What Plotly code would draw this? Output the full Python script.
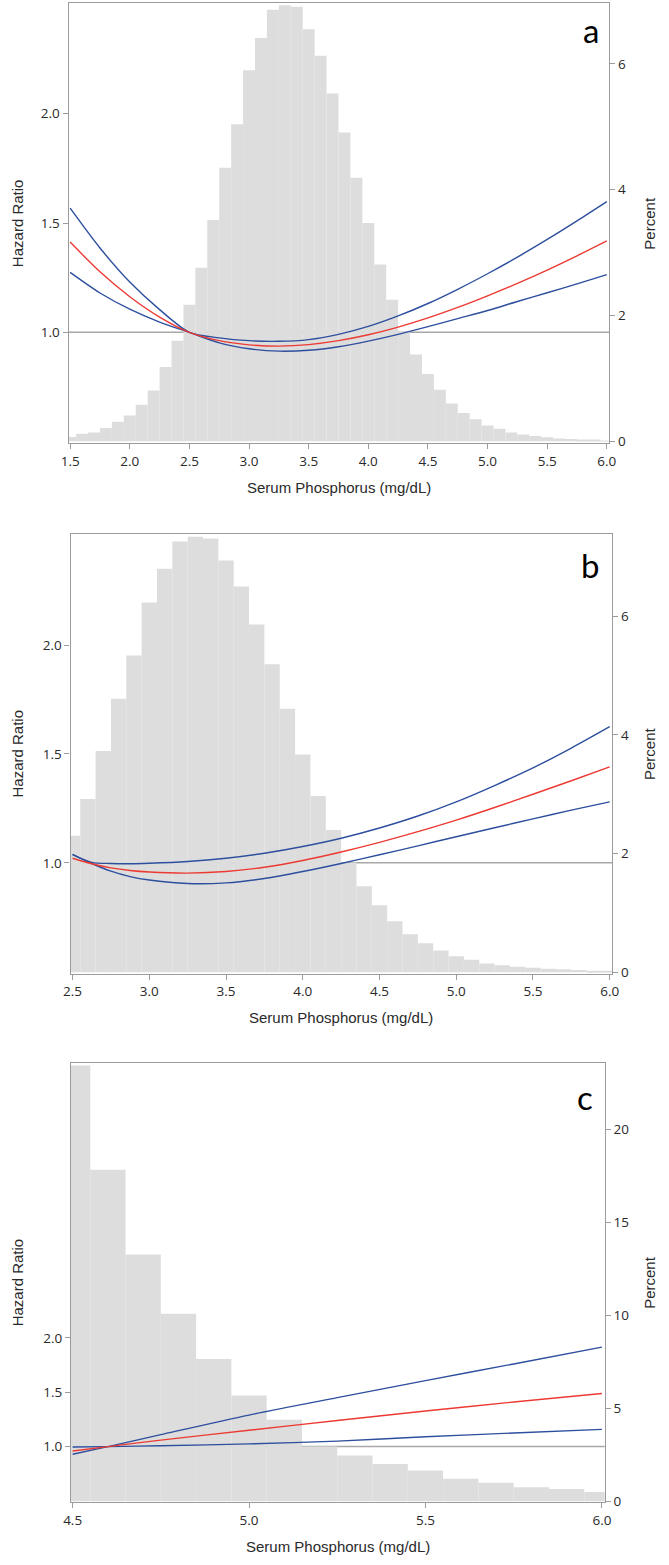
import plotly.graph_objects as go

W, H = 669, 1565

# ---------------- Panel a ----------------
a_bins = [1.5, 1.6, 1.7, 1.8, 1.9, 2.0, 2.1, 2.2, 2.3, 2.4, 2.5, 2.6, 2.7, 2.8, 2.9,
          3.0, 3.1, 3.2, 3.3, 3.4, 3.5, 3.6, 3.7, 3.8, 3.9, 4.0, 4.1, 4.2, 4.3, 4.4,
          4.5, 4.6, 4.7, 4.8, 4.9, 5.0, 5.1, 5.2, 5.3, 5.4, 5.5, 5.6, 5.7, 5.8, 5.9, 6.0]
a_pct = [0.07, 0.12, 0.14, 0.21, 0.31, 0.41, 0.58, 0.81, 1.18, 1.60, 2.17, 2.76, 3.52, 4.35, 5.04,
         5.90, 6.41, 6.86, 6.93, 6.91, 6.55, 6.13, 5.53, 4.91, 4.19, 3.47, 2.81, 2.25, 1.74, 1.38,
         1.07, 0.82, 0.60, 0.45, 0.35, 0.25, 0.20, 0.14, 0.11, 0.085, 0.063, 0.047, 0.038, 0.027, 0.022, 0.011]
a_x = [1.5, 1.75, 2.0, 2.25, 2.5, 2.75, 3.0, 3.25, 3.5, 3.75, 4.0, 4.25, 4.5, 4.75, 5.0, 5.25, 5.5, 5.75, 6.0]
a_hr = [1.413, 1.277, 1.163, 1.070, 1.0, 0.962, 0.943, 0.937, 0.944, 0.962, 0.989, 1.024, 1.066,
        1.114, 1.167, 1.224, 1.285, 1.350, 1.418]
a_hi = [1.568, 1.386, 1.230, 1.104, 1.0, 0.975, 0.962, 0.959, 0.967, 0.991, 1.027, 1.075, 1.132,
        1.197, 1.268, 1.344, 1.425, 1.510, 1.598]
a_lo = [1.274, 1.180, 1.106, 1.047, 1.0, 0.952, 0.925, 0.914, 0.918, 0.934, 0.960, 0.991, 1.026,
        1.063, 1.100, 1.141, 1.181, 1.222, 1.264]

# ---------------- Panel b ----------------
b_bins = [2.5, 2.6, 2.7, 2.8, 2.9, 3.0, 3.1, 3.2, 3.3, 3.4, 3.5, 3.6, 3.7, 3.8, 3.9, 4.0, 4.1, 4.2,
          4.3, 4.4, 4.5, 4.6, 4.7, 4.8, 4.9, 5.0, 5.1, 5.2, 5.3, 5.4, 5.5, 5.6, 5.7, 5.8, 5.9, 6.0]
b_pct = [2.30, 2.92, 3.73, 4.61, 5.34, 6.23, 6.80, 7.26, 7.34, 7.31, 6.94, 6.50, 5.86, 5.19, 4.44,
         3.67, 2.97, 2.40, 1.85, 1.45, 1.13, 0.86, 0.64, 0.49, 0.37, 0.27, 0.21, 0.15, 0.12, 0.094,
         0.077, 0.06, 0.05, 0.04, 0.027, 0.017]
b_x = [2.5, 2.625, 2.75, 2.875, 3.0, 3.25, 3.5, 3.75, 4.0, 4.25, 4.5, 4.75, 5.0, 5.25, 5.5, 5.75, 6.0]
b_hr = [1.021, 0.996, 0.977, 0.965, 0.958, 0.953, 0.960, 0.980, 1.011, 1.050, 1.094, 1.143, 1.196,
        1.254, 1.315, 1.377, 1.441]
b_hi = [1.038, 1.002, 0.997, 0.996, 0.998, 1.006, 1.021, 1.044, 1.075, 1.113, 1.160, 1.215, 1.280,
        1.355, 1.436, 1.527, 1.625]
b_lo = [1.039, 0.997, 0.962, 0.937, 0.921, 0.905, 0.908, 0.928, 0.960, 0.997, 1.037, 1.078, 1.120,
        1.161, 1.202, 1.242, 1.280]

# ---------------- Panel c ----------------
c_bins = [4.5, 4.6, 4.7, 4.8, 4.9, 5.0, 5.1, 5.2, 5.3, 5.4, 5.5, 5.6, 5.7, 5.8, 5.9, 6.0]
c_pct = [23.46, 17.84, 13.28, 10.09, 7.66, 5.69, 4.39, 2.95, 2.46, 2.00, 1.66, 1.21, 1.00, 0.75, 0.66, 0.50]
c_x = [4.5, 4.6, 4.75, 5.0, 5.25, 5.5, 5.75, 6.0]
c_hr = [0.96, 1.0, 1.06, 1.15, 1.24, 1.327, 1.41, 1.488]
c_hi = [0.93, 1.0, 1.11, 1.29, 1.45, 1.607, 1.76, 1.915]
c_lo = [0.997, 1.0, 1.008, 1.025, 1.05, 1.09, 1.125, 1.158]

x_ticks = {"a": [1.5, 2.0, 2.5, 3.0, 3.5, 4.0, 4.5, 5.0, 5.5, 6.0],
           "b": [2.5, 3.0, 3.5, 4.0, 4.5, 5.0, 5.5, 6.0],
           "c": [4.5, 5.0, 5.5, 6.0]}
hr_ticks = [1.0, 1.5, 2.0]
pct_ticks = {"a": [0, 2, 4, 6], "b": [0, 2, 4, 6], "c": [0, 5, 10, 15, 20]}
REF_HR = 1.0
BIN_W = 0.1

# Layout geometry (pixels) and axis ranges
panels = [
    dict(key="a", bins=a_bins, pct=a_pct, x=a_x, hr=a_hr, hi=a_hi, lo=a_lo,
         box=(62, 615, 3.5, 445.5), xr=[1.487, 6.02], hrr=[0.493, 2.504], pr=[-0.03, 6.96],
         lab=(596, 30)),
    dict(key="b", bins=b_bins, pct=b_pct, x=b_x, hr=b_hr, hi=b_hi, lo=b_lo,
         box=(64, 618, 536.5, 978.7), xr=[2.487, 6.016], hrr=[0.491, 2.511], pr=[-0.023, 7.39],
         lab=(595, 568)),
    dict(key="c", bins=c_bins, pct=c_pct, x=c_x, hr=c_hr, hi=c_hi, lo=c_lo,
         box=(64.4, 610.4, 1068.3, 1510), xr=[4.4953, 6.008], hrr=[0.488, 4.529], pr=[-0.054, 23.6],
         lab=(590, 1103)),
]

BAR_COLOR = "#dddddd"
BLUE = "#2d4f9e"
RED = "#ec3a33"
AXIS_COLOR = "#9b9b9b"
TEXT_COLOR = "#2a2a2a"
TICK_FONT = dict(family="Open Sans, Liberation Sans, sans-serif", size=13.5, color=TEXT_COLOR)
TITLE_FONT = dict(family="Liberation Sans, Arial, sans-serif", size=15, color=TEXT_COLOR)
LINE_KW = dict(width=1.4, shape="spline", smoothing=0.8)

fig = go.Figure()
layout = dict(width=W, height=H, margin=dict(l=0, r=0, t=0, b=0),
              paper_bgcolor="white", plot_bgcolor="white", showlegend=False,
              annotations=[], shapes=[])

for i, p in enumerate(panels):
    xa = "x" if i == 0 else f"x{i + 1}"
    yp = f"y{2 * i + 1}" if i > 0 else "y"
    yh = f"y{2 * i + 2}"
    xa_name = "xaxis" if i == 0 else f"xaxis{i + 1}"
    yp_name = "yaxis" if i == 0 else f"yaxis{2 * i + 1}"
    yh_name = f"yaxis{2 * i + 2}"
    x0, x1, yt, yb = p["box"]
    xd = [x0 / W, x1 / W]
    yd = [1 - yb / H, 1 - yt / H]

    fig.add_trace(go.Bar(x=p["bins"], y=p["pct"], width=BIN_W, xaxis=xa, yaxis=yp,
                         marker=dict(color=BAR_COLOR, line=dict(width=0)), hoverinfo="skip"))
    fig.add_trace(go.Scatter(x=p["x"], y=p["hi"], mode="lines", xaxis=xa, yaxis=yh,
                             line=dict(color=BLUE, **LINE_KW)))
    fig.add_trace(go.Scatter(x=p["x"], y=p["lo"], mode="lines", xaxis=xa, yaxis=yh,
                             line=dict(color=BLUE, **LINE_KW)))
    fig.add_trace(go.Scatter(x=p["x"], y=p["hr"], mode="lines", xaxis=xa, yaxis=yh,
                             line=dict(color=RED, **LINE_KW)))

    layout[xa_name] = dict(domain=xd, anchor=yp, range=p["xr"], tickvals=x_ticks[p["key"]],
                           ticktext=[f"{v:.1f}" for v in x_ticks[p["key"]]],
                           showline=True, mirror=True, linecolor=AXIS_COLOR, linewidth=1.2,
                           ticks="outside", ticklen=5, tickcolor=AXIS_COLOR, tickfont=TICK_FONT,
                           showgrid=False, zeroline=False, fixedrange=True)
    layout[yp_name] = dict(domain=yd, anchor=xa, side="right", range=p["pr"],
                           tickvals=pct_ticks[p["key"]], showline=True, linecolor=AXIS_COLOR,
                           linewidth=1.2, ticks="outside", ticklen=5, tickcolor=AXIS_COLOR,
                           tickfont=TICK_FONT, showgrid=False, zeroline=False)
    layout[yh_name] = dict(overlaying=yp, anchor=xa, side="left", range=p["hrr"],
                           tickvals=hr_ticks, ticktext=[f"{v:.1f}" for v in hr_ticks],
                           showline=True, linecolor=AXIS_COLOR, linewidth=1.2, ticks="outside",
                           ticklen=5, tickcolor=AXIS_COLOR, tickfont=TICK_FONT,
                           showgrid=False, zeroline=False)

    layout["shapes"].append(dict(type="line", xref=f"{xa} domain", yref=yh, x0=0, x1=1,
                                 y0=REF_HR, y1=REF_HR, layer="below",
                                 line=dict(color="#a8a8a8", width=1.5)))

    cy = (yt + yb) / 2
    layout["annotations"] += [
        dict(text="Hazard Ratio", xref="paper", yref="paper", x=10 / W, y=1 - cy / H,
             textangle=-90, showarrow=False, xanchor="center", yanchor="middle", font=TITLE_FONT),
        dict(text="Percent", xref="paper", yref="paper", x=656 / W, y=1 - cy / H,
             textangle=-90, showarrow=False, xanchor="center", yanchor="middle", font=TITLE_FONT),
        dict(text="Serum Phosphorus (mg/dL)", xref="paper", yref="paper", x=((x0 + x1) / 2) / W,
             y=1 - (yb + 44.5) / H, showarrow=False, xanchor="center", yanchor="middle",
             font=TITLE_FONT),
        dict(text=p["key"], xref="paper", yref="paper", x=p["lab"][0] / W, y=1 - p["lab"][1] / H,
             showarrow=False, xanchor="center", yanchor="middle",
             font=dict(family="Lato, Open Sans, sans-serif", size=33, color="#000000")),
    ]

fig.update_layout(**layout)
fig.write_html("out.html",
               config={"displayModeBar": False},
               post_script="document.body.style.margin='0';document.body.style.overflow='hidden';")
